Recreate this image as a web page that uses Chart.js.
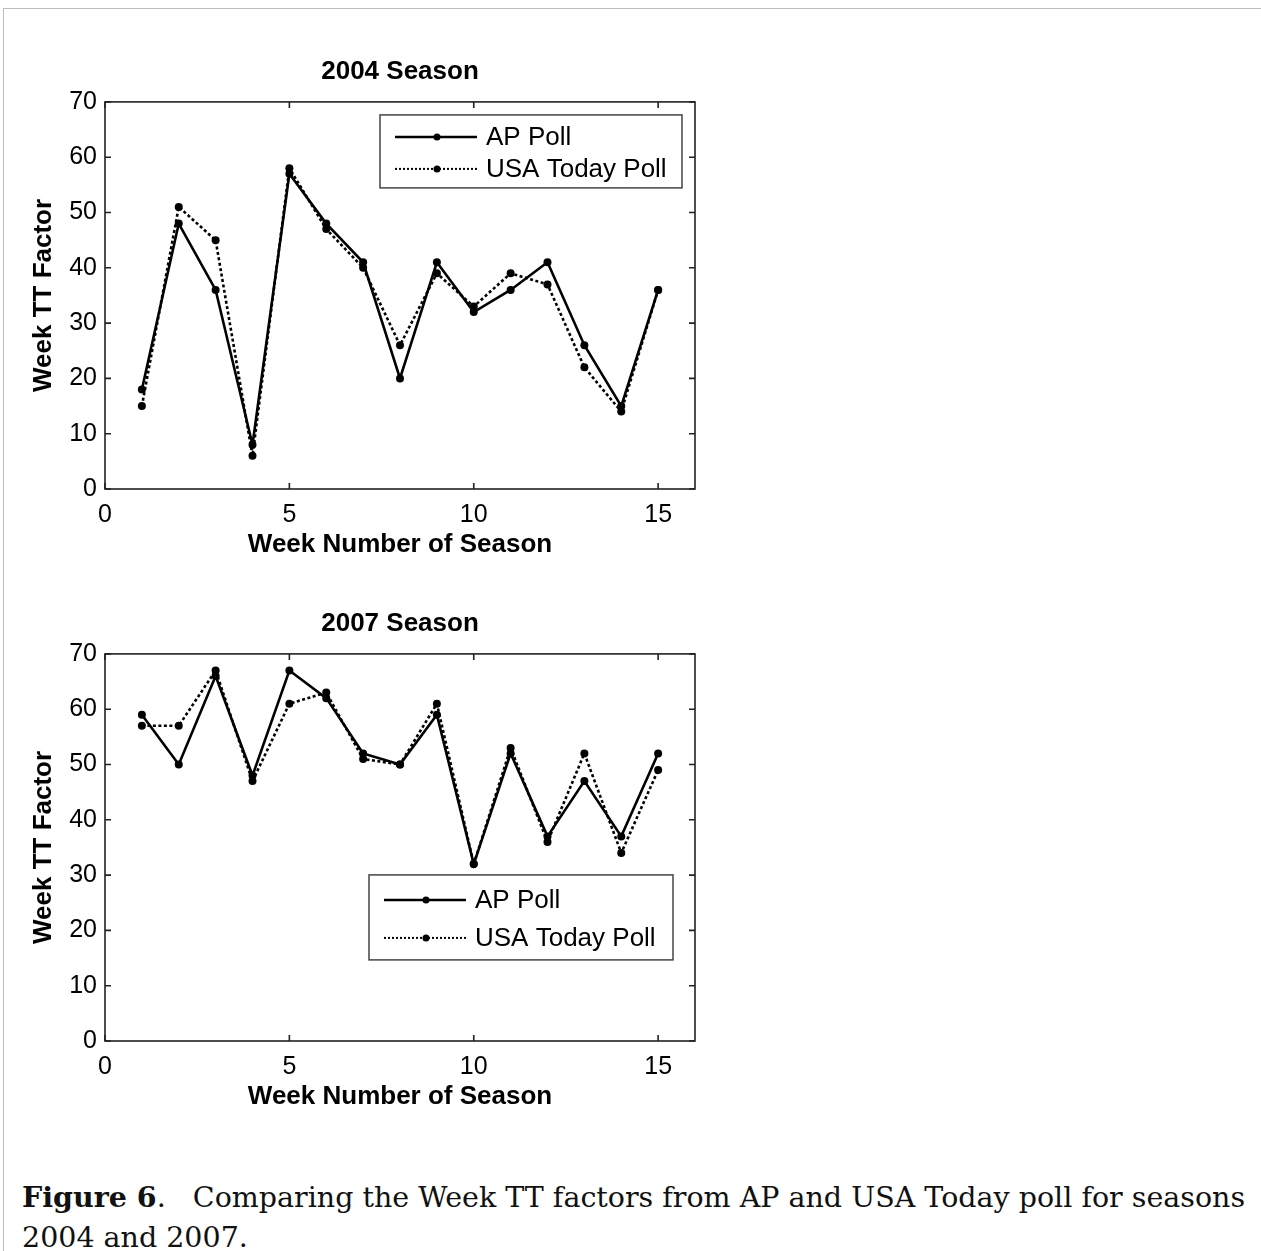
<!DOCTYPE html>
<html>
<head>
<meta charset="utf-8">
<title>Week TT factors, AP vs USA Today</title>
<script src="https://cdn.jsdelivr.net/npm/chart.js@4.4.1/dist/chart.umd.min.js"></script>
<style>
    body { margin: 0; background: #fff; width: 1261px; height: 1251px; position: relative; overflow: hidden; }
    .page-edge { position: absolute; left: 3px; top: 8px; right: 0; bottom: 0; border-top: 1px solid #bdbdbd; border-left: 1px solid #bdbdbd; }
    canvas { position: absolute; left: 0; }
    #chart2004 { top: 30px; }
    #chart2007 { top: 582px; }
    .caption { position: absolute; left: 22px; top: 1177px; width: 1236px; font-family: "DejaVu Serif", serif; font-size: 28.5px; line-height: 40px; color: #111; }
</style>
</head>
<body>
<div class="page-edge"></div>
<canvas id="chart2004" width="720" height="559"></canvas>
<canvas id="chart2007" width="720" height="559"></canvas>
<div class="caption"><b>Figure 6</b>.&nbsp;&nbsp; Comparing the Week TT factors from AP and USA Today poll for seasons 2004 and 2007.</div>

<script>
// Data
const weeks = [1, 2, 3, 4, 5, 6, 7, 8, 9, 10, 11, 12, 13, 14, 15];
const xTicks = [0, 5, 10, 15];
const yTicks = [0, 10, 20, 30, 40, 50, 60, 70];

const ap2004 = [18, 48, 36, 8, 57, 48, 41, 20, 41, 32, 36, 41, 26, 15, 36];
const usa2004 = [15, 51, 45, 6, 58, 47, 40, 26, 39, 33, 39, 37, 22, 14, 36];

const ap2007 = [59, 50, 66, 48, 67, 62, 52, 50, 59, 32, 52, 37, 47, 37, 52];
const usa2007 = [57, 57, 67, 47, 61, 63, 51, 50, 61, 32, 53, 36, 52, 34, 49];

const seriesNames = ['AP Poll', 'USA Today Poll'];
const xLabel = 'Week Number of Season';
const yLabel = 'Week TT Factor';

const FONT = '"Liberation Sans", Arial, sans-serif';

// Box round the plot with inward ticks on all four sides
const axesBox = {
    id: 'axesBox',
    afterDatasetsDraw: function(chart) {
        const { ctx, chartArea: a, scales: { x, y } } = chart;
        const len = 6;
        ctx.save();
        ctx.strokeStyle = '#222';
        ctx.lineWidth = 1.6;
        ctx.beginPath();
        x.ticks.forEach(t => {
            const px = x.getPixelForValue(t.value);
            ctx.moveTo(px, a.bottom); ctx.lineTo(px, a.bottom - len);
            ctx.moveTo(px, a.top); ctx.lineTo(px, a.top + len);
        });
        y.ticks.forEach(t => {
            const py = y.getPixelForValue(t.value);
            ctx.moveTo(a.left, py); ctx.lineTo(a.left + len, py);
            ctx.moveTo(a.right, py); ctx.lineTo(a.right - len, py);
        });
        ctx.stroke();
        ctx.strokeRect(a.left, a.top, a.right - a.left, a.bottom - a.top);
        ctx.restore();
    }
};

// Legend box drawn inside the plot, like the original
const boxLegend = {
    id: 'boxLegend',
    afterDraw: function(chart, args, opts) {
        const { ctx, chartArea: a } = chart;
        const bx = a.left + opts.left;
        const by = a.top + opts.top;
        ctx.save();
        ctx.fillStyle = '#fff';
        ctx.fillRect(bx, by, opts.width, opts.height);
        ctx.strokeStyle = '#444';
        ctx.lineWidth = 1.5;
        ctx.strokeRect(bx, by, opts.width, opts.height);
        chart.data.datasets.forEach((ds, i) => {
            const cy = by + opts.rows[i];
            ctx.strokeStyle = '#000';
            ctx.fillStyle = '#000';
            ctx.lineWidth = ds.borderDash ? 2 : 2.5;
            ctx.setLineDash(ds.borderDash ? [2, 2] : []);
            ctx.beginPath();
            ctx.moveTo(bx + 15, cy);
            ctx.lineTo(bx + 97, cy);
            ctx.stroke();
            ctx.setLineDash([]);
            ctx.beginPath();
            ctx.arc(bx + 57, cy, 3.5, 0, Math.PI * 2);
            ctx.fill();
            ctx.font = '26px ' + FONT;
            ctx.textBaseline = 'middle';
            ctx.fillText(ds.label, bx + 106, cy + 1);
        });
        ctx.restore();
    }
};

function toPoints(values) {
    return weeks.map((w, i) => ({ x: w, y: values[i] }));
}

function makeChart(id, title, apValues, usaValues, legendBox) {
    const ctx = document.getElementById(id).getContext('2d');
    return new Chart(ctx, {
        type: 'line',
        data: {
            datasets: [
                {
                    label: seriesNames[0],
                    data: toPoints(apValues),
                    borderColor: '#000',
                    backgroundColor: '#000',
                    borderWidth: 2.6,
                    pointRadius: 4,
                    pointBorderWidth: 0,
                    tension: 0
                },
                {
                    label: seriesNames[1],
                    data: toPoints(usaValues),
                    borderColor: '#000',
                    backgroundColor: '#000',
                    borderWidth: 2.6,
                    borderDash: [3, 2.5],
                    pointRadius: 4,
                    pointBorderWidth: 0,
                    tension: 0
                }
            ]
        },
        options: {
            responsive: false,
            animation: false,
            devicePixelRatio: 1,
            layout: { padding: { left: 0, right: 25, top: 0, bottom: 0 } },
            plugins: {
                legend: { display: false },
                tooltip: { enabled: false },
                title: {
                    display: true,
                    fullSize: false,
                    text: title,
                    color: '#000',
                    font: { family: FONT, size: 26, weight: 'bold', lineHeight: 1.15 },
                    padding: { top: 27, bottom: 15 }
                },
                boxLegend: legendBox
            },
            scales: {
                x: {
                    type: 'linear',
                    min: 0,
                    max: 16,
                    afterBuildTicks: scale => { scale.ticks = xTicks.map(v => ({ value: v })); },
                    afterFit: scale => { scale.height = 100; },
                    grid: { display: false, drawTicks: false },
                    border: { display: false },
                    ticks: { color: '#000', padding: 11, font: { family: FONT, size: 25 } },
                    title: {
                        display: true,
                        text: xLabel,
                        color: '#000',
                        font: { family: FONT, size: 26, weight: 'bold', lineHeight: 1.15 },
                        padding: { top: 0, bottom: 29 }
                    }
                },
                y: {
                    type: 'linear',
                    min: 0,
                    max: 70,
                    afterBuildTicks: scale => { scale.ticks = yTicks.map(v => ({ value: v })); },
                    afterFit: scale => { scale.width = 105; },
                    grid: { display: false, drawTicks: false },
                    border: { display: false },
                    ticks: { color: '#000', padding: 8, font: { family: FONT, size: 25 } },
                    title: {
                        display: true,
                        text: yLabel,
                        color: '#000',
                        font: { family: FONT, size: 26, weight: 'bold', lineHeight: 1.15 },
                        padding: { top: 29, bottom: 0 }
                    }
                }
            }
        },
        plugins: [axesBox, boxLegend]
    });
}

makeChart('chart2004', '2004 Season', ap2004, usa2004,
    { left: 275, top: 13, width: 302, height: 73, rows: [22, 54] });
makeChart('chart2007', '2007 Season', ap2007, usa2007,
    { left: 264, top: 221, width: 304, height: 85, rows: [25, 63] });
</script>
</body>
</html>
